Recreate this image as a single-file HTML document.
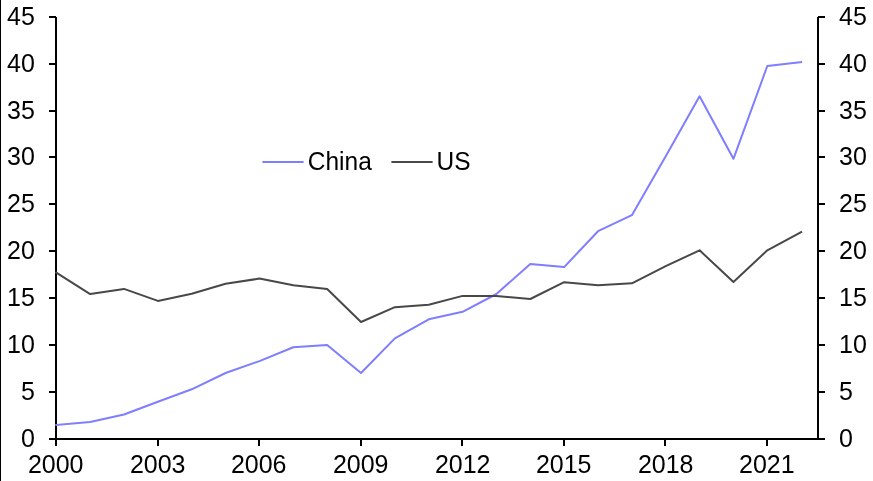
<!DOCTYPE html>
<html><head><meta charset="utf-8"><style>
html,body{margin:0;padding:0;background:#fff;}
body{width:873px;height:481px;overflow:hidden;}
svg{display:block;will-change:transform;}
text{font-family:"Liberation Sans",sans-serif;font-size:24.5px;fill:#000;}
</style></head><body>
<svg width="873" height="481" viewBox="0 0 873 481">
<rect x="0" y="0" width="1" height="481" fill="#000"/>
<rect x="55" y="17" width="2" height="423" fill="#000"/>
<rect x="817" y="17" width="2" height="423" fill="#000"/>
<rect x="49" y="438" width="776" height="2" fill="#000"/>
<rect x="49" y="16" width="7" height="2" fill="#000"/>
<rect x="818" y="16" width="7" height="2" fill="#000"/>
<rect x="49" y="63" width="7" height="2" fill="#000"/>
<rect x="818" y="63" width="7" height="2" fill="#000"/>
<rect x="49" y="110" width="7" height="2" fill="#000"/>
<rect x="818" y="110" width="7" height="2" fill="#000"/>
<rect x="49" y="156" width="7" height="2" fill="#000"/>
<rect x="818" y="156" width="7" height="2" fill="#000"/>
<rect x="49" y="203" width="7" height="2" fill="#000"/>
<rect x="818" y="203" width="7" height="2" fill="#000"/>
<rect x="49" y="250" width="7" height="2" fill="#000"/>
<rect x="818" y="250" width="7" height="2" fill="#000"/>
<rect x="49" y="297" width="7" height="2" fill="#000"/>
<rect x="818" y="297" width="7" height="2" fill="#000"/>
<rect x="49" y="344" width="7" height="2" fill="#000"/>
<rect x="818" y="344" width="7" height="2" fill="#000"/>
<rect x="49" y="391" width="7" height="2" fill="#000"/>
<rect x="818" y="391" width="7" height="2" fill="#000"/>
<rect x="49" y="438" width="7" height="2" fill="#000"/>
<rect x="818" y="438" width="7" height="2" fill="#000"/>
<rect x="55" y="439" width="2" height="7" fill="#000"/>
<rect x="157" y="439" width="2" height="7" fill="#000"/>
<rect x="258" y="439" width="2" height="7" fill="#000"/>
<rect x="360" y="439" width="2" height="7" fill="#000"/>
<rect x="461" y="439" width="2" height="7" fill="#000"/>
<rect x="563" y="439" width="2" height="7" fill="#000"/>
<rect x="664" y="439" width="2" height="7" fill="#000"/>
<rect x="766" y="439" width="2" height="7" fill="#000"/>
<path d="M56.30,425.00 L90.16,422.00 L124.01,414.50 L157.87,401.80 L191.73,389.30 L225.58,373.00 L259.44,361.10 L293.30,347.20 L327.16,344.90 L361.01,373.00 L394.87,338.40 L428.73,319.30 L462.58,311.80 L496.44,294.00 L530.30,263.90 L564.15,267.10 L598.01,231.20 L631.87,215.20 L665.73,156.20 L699.58,96.30 L733.44,158.80 L767.30,66.00 L801.15,62.00" fill="none" stroke="#7E7EFF" stroke-width="2" stroke-linejoin="round" stroke-linecap="square"/>
<path d="M56.30,272.70 L90.16,294.10 L124.01,288.90 L157.87,300.90 L191.73,293.80 L225.58,283.80 L259.44,278.60 L293.30,285.20 L327.16,289.00 L361.01,322.00 L394.87,307.20 L428.73,304.70 L462.58,295.90 L496.44,295.90 L530.30,299.00 L564.15,282.20 L598.01,285.30 L631.87,283.30 L665.73,266.20 L699.58,250.30 L733.44,282.10 L767.30,250.30 L801.15,232.10" fill="none" stroke="#484848" stroke-width="2" stroke-linejoin="round" stroke-linecap="square"/>
<text transform="translate(34.8,24.5) scale(1,1.03)" style="font-size:25px" text-anchor="end">45</text>
<text transform="translate(839,24.5) scale(1,1.03)" style="font-size:25px">45</text>
<text transform="translate(34.8,71.5) scale(1,1.03)" style="font-size:25px" text-anchor="end">40</text>
<text transform="translate(839,71.5) scale(1,1.03)" style="font-size:25px">40</text>
<text transform="translate(34.8,118.5) scale(1,1.03)" style="font-size:25px" text-anchor="end">35</text>
<text transform="translate(839,118.5) scale(1,1.03)" style="font-size:25px">35</text>
<text transform="translate(34.8,164.5) scale(1,1.03)" style="font-size:25px" text-anchor="end">30</text>
<text transform="translate(839,164.5) scale(1,1.03)" style="font-size:25px">30</text>
<text transform="translate(34.8,211.5) scale(1,1.03)" style="font-size:25px" text-anchor="end">25</text>
<text transform="translate(839,211.5) scale(1,1.03)" style="font-size:25px">25</text>
<text transform="translate(34.8,258.5) scale(1,1.03)" style="font-size:25px" text-anchor="end">20</text>
<text transform="translate(839,258.5) scale(1,1.03)" style="font-size:25px">20</text>
<text transform="translate(34.8,305.5) scale(1,1.03)" style="font-size:25px" text-anchor="end">15</text>
<text transform="translate(839,305.5) scale(1,1.03)" style="font-size:25px">15</text>
<text transform="translate(34.8,352.5) scale(1,1.03)" style="font-size:25px" text-anchor="end">10</text>
<text transform="translate(839,352.5) scale(1,1.03)" style="font-size:25px">10</text>
<text transform="translate(34.8,399.5) scale(1,1.03)" style="font-size:25px" text-anchor="end">5</text>
<text transform="translate(839,399.5) scale(1,1.03)" style="font-size:25px">5</text>
<text transform="translate(34.8,446.5) scale(1,1.03)" style="font-size:25px" text-anchor="end">0</text>
<text transform="translate(839,446.5) scale(1,1.03)" style="font-size:25px">0</text>
<text transform="translate(55.7,473.0) scale(1,1.03)" style="font-size:25px" text-anchor="middle">2000</text>
<text transform="translate(157.7,473.0) scale(1,1.03)" style="font-size:25px" text-anchor="middle">2003</text>
<text transform="translate(258.7,473.0) scale(1,1.03)" style="font-size:25px" text-anchor="middle">2006</text>
<text transform="translate(360.7,473.0) scale(1,1.03)" style="font-size:25px" text-anchor="middle">2009</text>
<text transform="translate(462.7,473.0) scale(1,1.03)" style="font-size:25px" text-anchor="middle">2012</text>
<text transform="translate(563.7,473.0) scale(1,1.03)" style="font-size:25px" text-anchor="middle">2015</text>
<text transform="translate(665.7,473.0) scale(1,1.03)" style="font-size:25px" text-anchor="middle">2018</text>
<text transform="translate(766.8,473.0) scale(1,1.03)" style="font-size:25px" text-anchor="middle">2021</text>
<rect x="262.4" y="161" width="41.2" height="2" fill="#7E7EFF"/>
<text transform="translate(307.8,170) scale(1,1.055)" style="font-size:24.5px">China</text>
<rect x="391.4" y="161" width="41.2" height="2" fill="#484848"/>
<text transform="translate(436.5,170) scale(1,1.055)" style="font-size:24.5px">US</text>
</svg>
</body></html>
